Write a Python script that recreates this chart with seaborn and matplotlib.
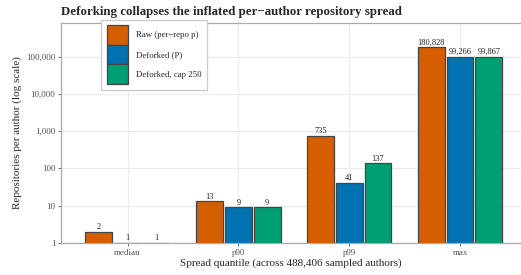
import pandas as pd
import matplotlib.pyplot as plt
import seaborn as sns

# valores
quantis = ["median", "p90", "p99", "max"]
raw = [2, 13, 735, 180828]
deforked = [1, 9, 41, 99266]
deforked_cap = [1, 9, 137, 99867]
series = ["Raw (per\u2212repo p)", "Deforked (P)", "Deforked, cap 250"]
cores = ["#D55E00", "#0072B2", "#009E73"]

df = pd.DataFrame({
    "quantil": quantis * 3,
    "valor": raw + deforked + deforked_cap,
    "serie": [series[0]] * 4 + [series[1]] * 4 + [series[2]] * 4,
})

sns.set_theme(style="whitegrid")
plt.rcParams["font.family"] = ["Liberation Serif", "DejaVu Serif"]

fig = plt.figure(figsize=(5.21, 2.75), dpi=100)
ax = fig.add_axes([61 / 521, 32 / 275, 460 / 521, 220 / 275])

sns.barplot(
    data=df, x="quantil", y="valor", hue="serie",
    palette=cores, saturation=1, width=0.78, gap=0.07,
    edgecolor="#444444", linewidth=0.9, ax=ax,
)
ax.set_yscale("log")

for cont in ax.containers:
    ax.bar_label(cont, fmt="{:,.0f}", padding=0.5, fontsize=6, color="#222222")

ax.set_ylim(1, 8e5)
ax.set_xlim(-0.6, 3.55)
ax.set_yticks([1, 10, 100, 1000, 10000, 100000])
ax.set_yticklabels(["1", "10", "100", "1,000", "10,000", "100,000"])
ax.minorticks_off()
ax.tick_params(axis="both", labelsize=6.5, colors="#555555", length=2.5, width=0.6, pad=1.5)
ax.tick_params(axis="x", bottom=True)
ax.tick_params(axis="y", left=True)
ax.grid(True, color="#ebebeb", linewidth=0.8)
ax.set_axisbelow(True)

for lado in ["top", "bottom", "left"]:
    ax.spines[lado].set_visible(True)
    ax.spines[lado].set_color("#aaaaaa")
    ax.spines[lado].set_linewidth(0.9)
ax.spines["right"].set_visible(False)

ax.set_xlabel("Spread quantile (across 488,406 sampled authors)", fontsize=8, labelpad=1)
ax.set_ylabel("Repositories per author (log scale)", fontsize=8, labelpad=3)
ax.set_title("Deforking collapses the inflated per\u2212author repository spread",
             loc="left", fontsize=9.3, fontweight="bold", pad=6)

leg = ax.legend(
    loc="upper left", bbox_to_anchor=(0.078, 1.035), fontsize=6.3,
    handlelength=2.4, handleheight=3.1, labelspacing=0.0, handletextpad=1.0,
    borderpad=0.6, frameon=True, fancybox=False, edgecolor="#cccccc",
    framealpha=1, title=None,
)
for h in leg.legend_handles:
    h.set_edgecolor("#444444")

fig.savefig("out.png", dpi=100)
